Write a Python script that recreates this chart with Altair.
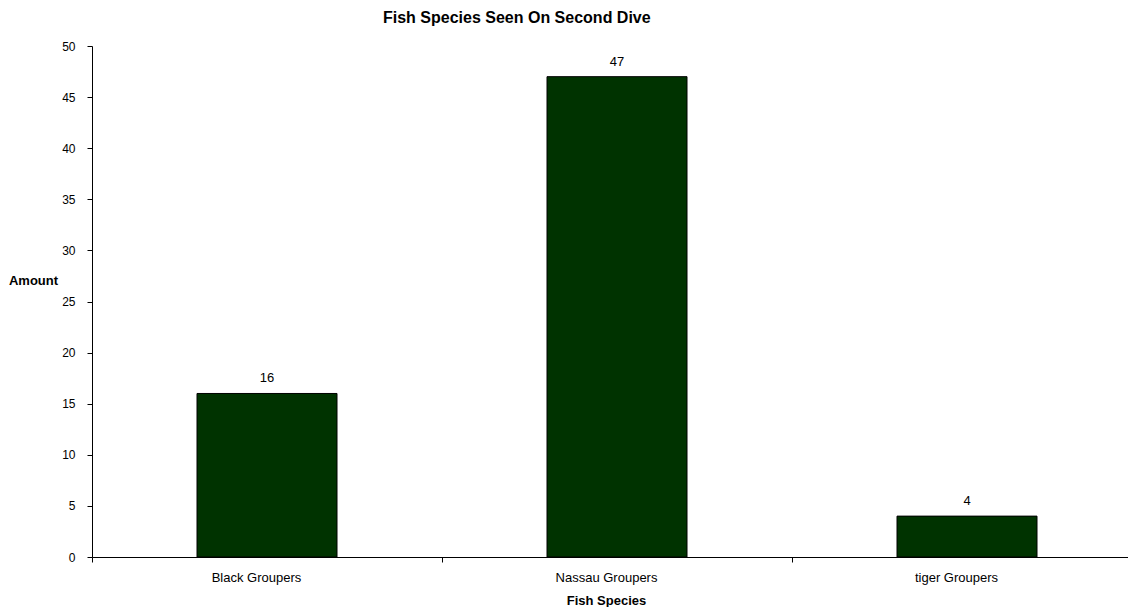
import altair as alt
import pandas as pd

species = ["Black Groupers", "Nassau Groupers", "tiger Groupers"]
amounts = [16, 47, 4]
y_ticks = [0, 5, 10, 15, 20, 25, 30, 35, 40, 45, 50]

df = pd.DataFrame({"species": species, "amount": amounts})

FONT = "Liberation Sans"

base = alt.Chart(df).encode(
    x=alt.X(
        "species:N",
        sort=species,
        title="Fish Species",
        scale=alt.Scale(range=[0, 1050], paddingInner=0, paddingOuter=0),
        axis=alt.Axis(
            labelAngle=0,
            tickBand="extent",
            tickSize=5,
            labelPadding=9,
            labelOffset=-11,
            labelFontSize=13,
            labelFont=FONT,
            labelColor="#000000",
            titleFont=FONT,
            titleFontSize=13,
            titleFontWeight="bold",
            titleColor="#000000",
            titleX=514,
            titleY=43,
            titleBaseline="middle",
            domainColor="#000000",
            tickColor="#000000",
            grid=False,
        ),
    ),
    y=alt.Y(
        "amount:Q",
        title="Amount",
        scale=alt.Scale(domain=[0, 50], nice=False),
        axis=alt.Axis(
            values=y_ticks,
            tickSize=5,
            labelPadding=12,
            labelFontSize=12,
            labelFont=FONT,
            labelColor="#000000",
            titleFont=FONT,
            titleFontSize=13,
            titleFontWeight="bold",
            titleColor="#000000",
            titleAngle=0,
            titleAlign="center",
            titleBaseline="middle",
            titleX=-59,
            titleY=234,
            domainColor="#000000",
            tickColor="#000000",
            grid=False,
        ),
    ),
)

bars = base.mark_bar(color="#003300", stroke="#000000", strokeWidth=1, width={"band": 0.4})
labels = base.mark_text(baseline="bottom", dy=-8, fontSize=13, font=FONT, color="#000000").encode(
    text="amount:Q"
)

chart = (
    (bars + labels)
    .properties(
        width=1036,
        height=511,
        title=alt.TitleParams(
            "Fish Species Seen On Second Dive",
            font=FONT,
            fontSize=16,
            fontWeight="bold",
            color="#000000",
            anchor="start",
            frame="group",
            dx=291,
            offset=14,
        ),
        autosize=alt.AutoSizeParams(type="none"),
        padding={"left": 84, "top": 38, "right": 0, "bottom": 50},
    )
    .configure_view(stroke=None)
)

chart.save("out.html", embed_options={"renderer": "svg", "actions": False})
